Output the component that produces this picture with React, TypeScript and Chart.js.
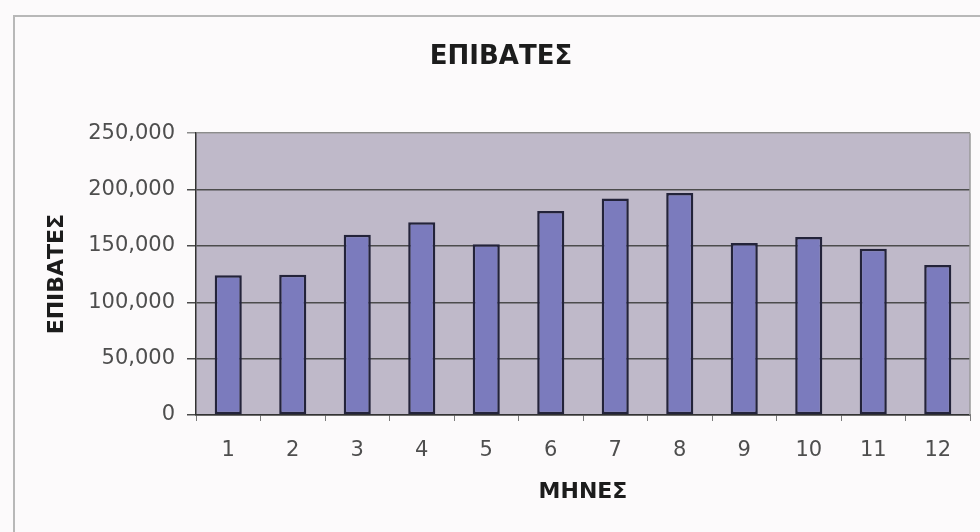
import React, { useEffect, useRef } from "react";
import { Chart, registerables } from "chart.js";

Chart.register(...registerables);

const months: string[] = ["1", "2", "3", "4", "5", "6", "7", "8", "9", "10", "11", "12"];
const passengers: number[] = [124000, 124500, 160000, 171000, 151500, 181000, 192000, 197000, 152500, 158000, 147500, 133000];
const yMin = 0;
const yMax = 250000;
const yStep = 50000;
const chartTitle = "ΕΠΙΒΑΤΕΣ";
const yTitle = "ΕΠΙΒΑΤΕΣ";
const xTitle = "ΜΗΝΕΣ";

const FONT = "'DejaVu Sans', 'Liberation Sans', Arial, sans-serif";

const bgPlugin = {
  id: "bgPlugin",
  beforeDraw(chart: any) {
    const { ctx, chartArea: a, width, height } = chart;
    ctx.save();
    ctx.fillStyle = "#fcfafb";
    ctx.fillRect(0, 0, width, height);
    ctx.strokeStyle = "#b8b8b8";
    ctx.lineWidth = 2;
    ctx.beginPath();
    ctx.moveTo(14, height);
    ctx.lineTo(14, 16);
    ctx.lineTo(width, 16);
    ctx.stroke();
    ctx.fillStyle = "#bfb9c9";
    ctx.fillRect(a.left, a.top, a.right - a.left, a.bottom - a.top);
    ctx.restore();
  },
  afterDraw(chart: any) {
    const { ctx, chartArea: a } = chart;
    ctx.save();
    ctx.strokeStyle = "#9a9a9a";
    ctx.lineWidth = 1.5;
    ctx.beginPath();
    ctx.moveTo(a.right, a.top);
    ctx.lineTo(a.right, a.bottom);
    ctx.stroke();
    ctx.restore();
  },
};

export default function App() {
  const ref = useRef<HTMLCanvasElement | null>(null);

  useEffect(() => {
    if (!ref.current) return;
    const chart = new Chart(ref.current, {
      type: "bar",
      data: {
        labels: months,
        datasets: [
          {
            label: yTitle,
            data: passengers,
            backgroundColor: "#7b7bbd",
            borderColor: "#23233a",
            borderWidth: 2.5,
            borderSkipped: false,
            barPercentage: 0.42,
            categoryPercentage: 1,
          },
        ],
      },
      options: {
        responsive: false,
        animation: false,
        layout: { padding: { left: 32, right: 10, top: 0, bottom: 0 } },
        plugins: {
          legend: { display: false },
          tooltip: { enabled: false },
          title: {
            display: true,
            text: chartTitle,
            color: "#1c1c1c",
            font: { family: FONT, size: 26, weight: "bold" },
            padding: { top: 42, bottom: 60 },
          },
        },
        scales: {
          x: {
            offset: true,
            grid: {
              display: true,
              offset: true,
              drawOnChartArea: false,
              drawTicks: true,
              tickLength: 6,
              color: "#7a7a7a",
              lineWidth: 1,
            },
            border: { display: true, color: "#333333", width: 1.5 },
            ticks: {
              color: "#4e4e4e",
              font: { family: FONT, size: 21 },
              padding: 17,
              maxRotation: 0,
              autoSkip: false,
            },
            title: {
              display: true,
              text: xTitle,
              color: "#1c1c1c",
              font: { family: FONT, size: 22, weight: "bold" },
              padding: { top: 0, bottom: 27 },
            },
            afterFit: (scale: any) => {
              scale.height = 117;
            },
          },
          y: {
            min: yMin,
            max: yMax,
            grid: {
              display: true,
              drawTicks: true,
              tickLength: 9,
              color: (c: any) => (c.tick && c.tick.value === yMax ? "#8c8c8c" : "#4c4c4c"),
              lineWidth: 1.5,
            },
            border: { display: true, color: "#333333", width: 1.5 },
            ticks: {
              stepSize: yStep,
              color: "#4e4e4e",
              font: { family: FONT, size: 21 },
              padding: 12,
              callback: (v: any) => Number(v).toLocaleString("en-US"),
            },
            title: {
              display: true,
              text: yTitle,
              color: "#1c1c1c",
              font: { family: FONT, size: 22, weight: "bold" },
              padding: { top: 12, bottom: 0 },
            },
            afterFit: (scale: any) => {
              scale.width = 196 - 32;
            },
          },
        },
      },
      plugins: [bgPlugin],
    });
    return () => chart.destroy();
  }, []);

  return (
    <div style={{ position: "absolute", left: 0, top: 0, width: 980, height: 532 }}>
      <canvas ref={ref} width={980} height={532} style={{ display: "block" }} />
    </div>
  );
}
